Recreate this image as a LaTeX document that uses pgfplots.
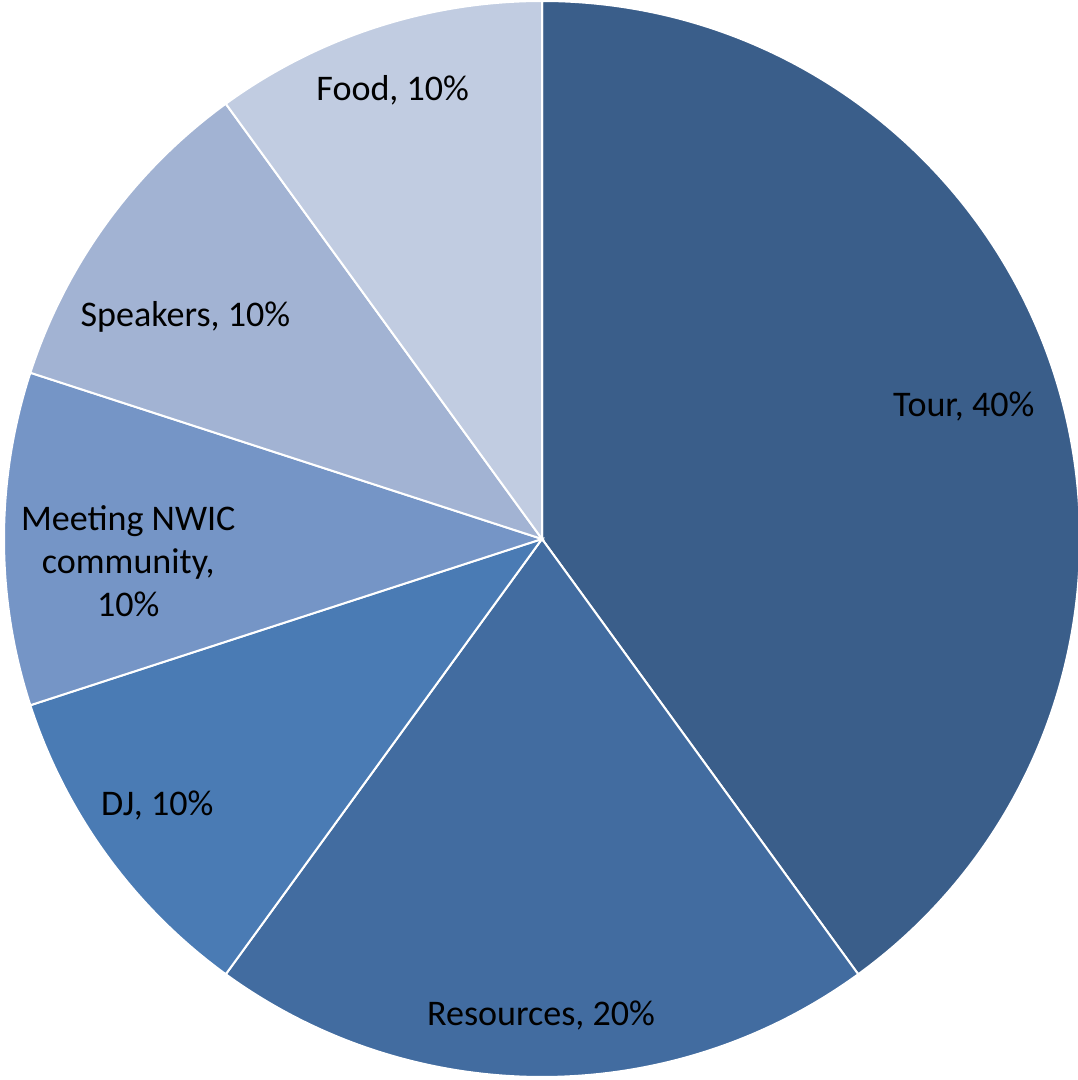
\documentclass[border=0pt]{standalone}
\usepackage{fontspec}
\setmainfont{Carlito}
\usepackage{pgfplots}
\usepackage{pgfplotstable}
\pgfplotsset{compat=1.18}
\definecolor{cTour}{HTML}{3A5E8A}
\definecolor{cRes}{HTML}{426CA0}
\definecolor{cDJ}{HTML}{4A7BB4}
\definecolor{cMeet}{HTML}{7595C6}
\definecolor{cSpk}{HTML}{A2B3D3}
\definecolor{cFood}{HTML}{C1CCE1}
\pgfplotstableread{
label value color
Tour 40 cTour
Resources 20 cRes
DJ 10 cDJ
Meeting 10 cMeet
Speakers 10 cSpk
Food 10 cFood
}\piedata
\begin{document}
\begin{tikzpicture}
\begin{axis}[
  x=0.5pt, y=0.5pt,
  xmin=-541, xmax=535, ymin=-540, ymax=540,
  hide axis, scale only axis,
  axis line style={draw=none},
]
\addplot[draw=none] coordinates {(0,0)};
\pgfplotsextra{
  \gdef\startang{90}
  \foreach \i in {0,...,5}{
    \pgfplotstablegetelem{\i}{value}\of\piedata \let\val\pgfplotsretval
    \pgfplotstablegetelem{\i}{color}\of\piedata \let\col\pgfplotsretval
    \pgfmathsetmacro\endang{\startang-3.6*\val}
    \fill[\col, draw=white, line width=1pt]
      (axis cs:0,0) -- ++(\startang:268.5pt) arc[start angle=\startang, end angle=\endang, radius=268.5pt] -- cycle;
    \xdef\startang{\endang}
  }
}
\begin{scope}[font=\fontsize{18}{21.6}\selectfont]
\node at (axis cs:421,132) {Tour, 40\%};
\node at (axis cs:-1,-476) {Resources, 20\%};
\node at (axis cs:-384,-266) {DJ, 10\%};
\node[align=center] at (axis cs:-413,-22) {Meeting NWIC\\community,\\10\%};
\node at (axis cs:-356,222) {Speakers, 10\%};
\node at (axis cs:-149,448) {Food, 10\%};
\end{scope}
\end{axis}
\end{tikzpicture}
\end{document}
